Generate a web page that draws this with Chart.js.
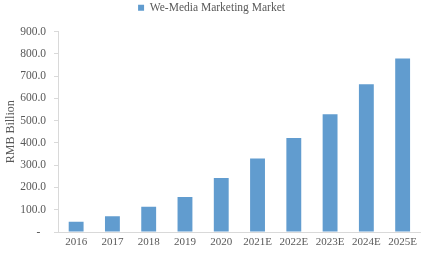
<!DOCTYPE html>
<html>
<head>
<meta charset="utf-8">
<script src="https://cdn.jsdelivr.net/npm/chart.js@4"></script>
<style>
  html, body { margin: 0; padding: 0; background: #fff; }
  #wrap { width: 421px; height: 253px; }
</style>
</head>
<body>
<div id="wrap"><canvas id="marketChart"></canvas></div>
<script>
const years = ['2016', '2017', '2018', '2019', '2020', '2021E', '2022E', '2023E', '2024E', '2025E'];
const marketSize = [46, 71, 113, 157, 242, 330, 422, 529, 663, 779];
const seriesName = 'We-Media Marketing Market';

const textColor = '#595959';
const fontFamily = '"Liberation Serif", "Times New Roman", serif';

// leave a bit more room under the legend, like the original
const legendGap = {
    id: 'legendGap',
    afterInit(chart) {
        const legend = chart.legend;
        const fit = legend.fit;
        legend.fit = function () {
            fit.call(this);
            this.height += 8;
        };
    }
};

const ctx = document.getElementById('marketChart').getContext('2d');

new Chart(ctx, {
    type: 'bar',
    data: {
        labels: years,
        datasets: [{
            label: seriesName,
            data: marketSize,
            backgroundColor: '#619CCF',
            borderWidth: 0,
            barPercentage: 0.82,
            categoryPercentage: 0.5
        }]
    },
    plugins: [legendGap],
    options: {
        responsive: true,
        maintainAspectRatio: false,
        animation: false,
        layout: { padding: { left: 2, right: 0, top: 0, bottom: 0 } },
        plugins: {
            legend: {
                position: 'top',
                labels: {
                    boxWidth: 6,
                    boxHeight: 6,
                    color: textColor,
                    font: { family: fontFamily, size: 11.5 },
                    padding: 2
                }
            },
            tooltip: { enabled: false }
        },
        scales: {
            x: {
                grid: { display: false, drawTicks: false },
                border: { display: true, color: '#d9d9d9' },
                ticks: {
                    color: textColor,
                    font: { family: fontFamily, size: 11 },
                    maxRotation: 0,
                    autoSkip: false,
                    padding: 4
                },
                afterFit: function (scale) { scale.height = 21; }
            },
            y: {
                min: 0,
                max: 900,
                grid: {
                    display: true,
                    drawOnChartArea: false,
                    drawTicks: true,
                    tickLength: 4,
                    color: '#d9d9d9'
                },
                border: { display: true, color: '#d9d9d9' },
                ticks: {
                    stepSize: 100,
                    color: textColor,
                    font: { family: fontFamily, size: 11.5 },
                    padding: 8,
                    callback: function (value) {
                        return value === 0 ? '-\u2002' : value.toFixed(1);
                    }
                },
                title: {
                    display: true,
                    text: 'RMB Billion',
                    color: textColor,
                    font: { family: fontFamily, size: 12 },
                    padding: 2
                },
                afterFit: function (scale) { scale.width = 56; }
            }
        }
    }
});
</script>
</body>
</html>
